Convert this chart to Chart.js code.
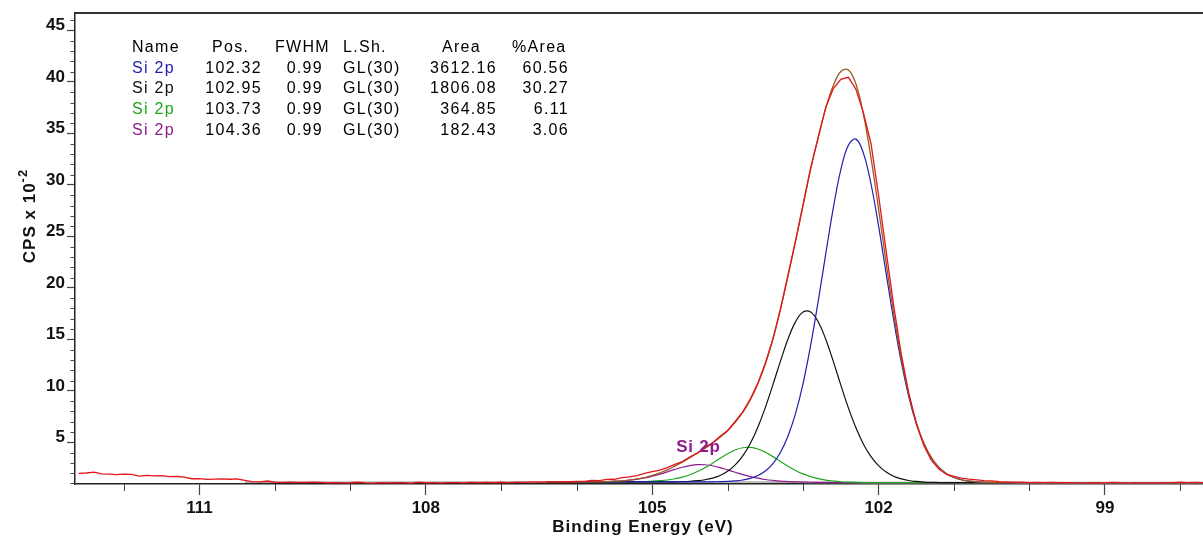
<!DOCTYPE html>
<html>
<head>
<meta charset="utf-8">
<script src="https://cdn.jsdelivr.net/npm/chart.js@4.4.1/dist/chart.umd.min.js"></script>
<style>
  html, body { margin: 0; padding: 0; background: #ffffff; }
  #wrap { position: relative; width: 1203px; height: 536px; }
</style>
</head>
<body>
<div id="wrap"><canvas id="c"></canvas></div>
<script>
// ---- Si 2p spectrum: raw counts (CPS x 10^-2) over binding energy (eV) ----
const rawEnergy = [
  112.6,112.5,112.4,112.3,112.2,112.1,112.0,111.9,111.8,111.7,
  111.6,111.5,111.4,111.3,111.2,111.1,111.0,110.9,110.8,110.7,
  110.6,110.5,110.4,110.3,110.2,110.1,110.0,109.9,109.8,109.7,
  109.6,109.5,109.4,109.3,109.2,109.1,109.0,108.9,108.8,108.7,
  108.6,108.5,108.4,108.3,108.2,108.1,108.0,107.9,107.8,107.7,
  107.6,107.5,107.4,107.3,107.2,107.1,107.0,106.9,106.8,106.7,
  106.6,106.5,106.4,106.3,106.2,106.1,106.0,105.9,105.8,105.7,
  105.6,105.5,105.4,105.3,105.2,105.1,105.0,104.9,104.8,104.7,
  104.6,104.5,104.4,104.3,104.2,104.1,104.0,103.9,103.8,103.7,
  103.6,103.5,103.4,103.3,103.2,103.1,103.0,102.9,102.8,102.7,
  102.6,102.5,102.4,102.3,102.2,102.1,102.0,101.9,101.8,101.7,
  101.6,101.5,101.4,101.3,101.2,101.1,101.0,100.9,100.8,100.7,
  100.6,100.5,100.4,100.3,100.2,100.1,100.0,99.9,99.8,99.7,
  99.6,99.5,99.4,99.3,99.2,99.1,99.0,98.9,98.8,98.7,
  98.6,98.5,98.4,98.3,98.2,98.1,98.0,97.9,97.8,97.7
];
const rawCounts = [
  1.99,2.02,2.10,1.93,1.90,1.86,1.90,1.89,1.72,1.78,
  1.73,1.76,1.67,1.68,1.62,1.46,1.48,1.40,1.43,1.45,
  1.41,1.44,1.31,1.18,1.15,1.24,1.12,1.10,1.13,1.10,
  1.11,1.14,1.10,1.06,1.09,1.06,1.07,1.12,1.06,1.04,
  1.08,1.05,1.07,1.09,1.04,1.13,1.06,1.08,1.05,1.09,
  1.08,1.06,1.10,1.08,1.11,1.07,1.12,1.09,1.13,1.10,
  1.15,1.12,1.16,1.14,1.18,1.17,1.21,1.20,1.29,1.27,
  1.40,1.41,1.56,1.64,1.77,1.98,2.15,2.30,2.55,2.86,
  3.12,3.60,3.95,4.52,4.95,5.58,6.15,7.02,7.95,9.20,
  10.75,12.70,15.05,17.95,21.25,24.55,28.05,31.65,34.55,37.55,
  39.35,40.25,40.45,39.30,37.00,34.00,29.00,23.60,18.30,13.60,
  9.80,6.80,4.70,3.25,2.40,1.88,1.68,1.53,1.42,1.36,
  1.28,1.25,1.18,1.15,1.12,1.13,1.09,1.11,1.08,1.10,
  1.07,1.09,1.08,1.06,1.08,1.07,1.05,1.10,1.08,1.05,
  1.07,1.06,1.08,1.05,1.07,1.09,1.12,1.08,1.10,1.09
];

// ---- fitted region: components (drawn on the background) and envelope ----
const fitEnergy = [
  106.4,106.3,106.2,106.1,106.0,105.9,105.8,105.7,105.6,105.5,
  105.4,105.3,105.2,105.1,105.0,104.9,104.8,104.7,104.6,104.5,
  104.4,104.3,104.2,104.1,104.0,103.9,103.8,103.7,103.6,103.5,
  103.4,103.3,103.2,103.1,103.0,102.9,102.8,102.7,102.6,102.5,
  102.4,102.3,102.2,102.1,102.0,101.9,101.8,101.7,101.6,101.5,
  101.4,101.3,101.2,101.1,101.0,100.9,100.8,100.7,100.6,100.5,
  100.4,100.3,100.2
];
const peak1Fit = [ // Si 2p 102.32
  1.15,1.15,1.15,1.15,1.15,1.15,1.15,1.15,1.15,1.15,
  1.15,1.15,1.15,1.15,1.15,1.15,1.15,1.15,1.15,1.15,
  1.15,1.15,1.16,1.18,1.20,1.25,1.34,1.50,1.78,2.22,
  2.94,4.03,5.62,7.81,10.73,14.42,18.71,23.30,27.75,31.48,
  33.86,34.45,33.07,30.09,26.02,21.43,16.90,12.85,9.45,6.82,
  4.87,3.49,2.55,1.95,1.58,1.36,1.23,1.16,1.12,1.10,
  1.09,1.08,1.08
];
const peak2Fit = [ // Si 2p 102.95
  1.15,1.15,1.15,1.15,1.15,1.15,1.15,1.15,1.15,1.15,
  1.15,1.15,1.15,1.15,1.15,1.15,1.15,1.16,1.18,1.21,
  1.27,1.36,1.52,1.78,2.18,2.80,3.68,4.89,6.47,8.39,
  10.60,12.89,15.04,16.72,17.66,17.65,16.71,15.01,12.86,10.55,
  8.34,6.41,4.82,3.61,2.73,2.11,1.71,1.45,1.29,1.20,
  1.14,1.11,1.09,1.08,1.08,1.08,1.08,1.08,1.08,1.08,
  1.08,1.08,1.08
];
const peak3Fit = [ // Si 2p 103.73
  1.15,1.15,1.15,1.15,1.15,1.15,1.15,1.15,1.15,1.15,
  1.15,1.16,1.17,1.19,1.22,1.27,1.34,1.46,1.62,1.85,
  2.16,2.53,2.97,3.44,3.88,4.25,4.47,4.51,4.35,4.03,
  3.61,3.14,2.68,2.27,1.93,1.67,1.47,1.33,1.24,1.17,
  1.14,1.12,1.09,1.08,1.08,1.08,1.08,1.08,1.08,1.08,
  1.08,1.08,1.08,1.08,1.08,1.08,1.08,1.08,1.08,1.08,
  1.08,1.08,1.08
];
const peak4Fit = [ // Si 2p 104.36
  1.15,1.15,1.15,1.15,1.15,1.16,1.16,1.17,1.19,1.22,
  1.26,1.32,1.42,1.54,1.71,1.91,2.13,2.37,2.58,2.74,
  2.83,2.82,2.72,2.54,2.32,2.09,1.86,1.67,1.52,1.39,
  1.30,1.23,1.19,1.16,1.14,1.12,1.11,1.10,1.10,1.09,
  1.09,1.09,1.08,1.08,1.08,1.08,1.08,1.08,1.08,1.08,
  1.08,1.08,1.08,1.08,1.08,1.08,1.08,1.08,1.08,1.08,
  1.08,1.08,1.08
];
const envelopeFit = [
  1.15,1.15,1.15,1.15,1.15,1.16,1.16,1.17,1.19,1.22,
  1.26,1.33,1.44,1.58,1.78,2.03,2.32,2.69,3.08,3.50,
  3.96,4.41,4.92,5.49,6.13,6.94,7.90,9.12,10.67,12.61,
  15.03,17.90,21.14,24.60,28.10,31.53,34.67,37.44,39.65,41.02,
  41.16,39.80,36.82,32.62,27.67,22.46,17.53,13.22,9.66,6.94,
  4.93,3.52,2.56,1.95,1.58,1.36,1.23,1.16,1.12,1.10,
  1.09,1.08,1.08
];
const bgEnergy = [110.4, 106.4, 103.7, 103.5, 103.3, 103.1, 102.9, 102.7, 102.5, 102.2, 97.7];
const bgLevel  = [1.12, 1.15, 1.15, 1.14, 1.13, 1.12, 1.11, 1.10, 1.09, 1.08, 1.08];

// ---- peak table ----
const tableHeader = ['Name', 'Pos.', 'FWHM', 'L.Sh.', 'Area', '%Area'];
const peakNames   = ['Si 2p', 'Si 2p', 'Si 2p', 'Si 2p'];
const peakPos     = [102.32, 102.95, 103.73, 104.36];
const peakFwhm    = [0.99, 0.99, 0.99, 0.99];
const peakShape   = ['GL(30)', 'GL(30)', 'GL(30)', 'GL(30)'];
const peakArea    = [3612.16, 1806.08, 364.85, 182.43];
const peakPct     = [60.56, 30.27, 6.11, 3.06];
const peakColors  = ['#1e1eb0', '#111111', '#1fa51f', '#8e1c8e'];

// ---- axes ----
const xMajorTicks = [111, 108, 105, 102, 99];
const xMinorTicks = [112, 110, 109, 107, 106, 104, 103, 101, 100, 98];
const yMajorTicks = [5, 10, 15, 20, 25, 30, 35, 40, 45];
const yMinorTicks = [1,2,3,4,6,7,8,9,11,12,13,14,16,17,18,19,21,22,23,24,26,27,28,29,
                     31,32,33,34,36,37,38,39,41,42,43,44,46];

const FONT = '"Liberation Sans", Arial, Helvetica, sans-serif';
const pts = (xs, ys) => xs.map((x, i) => ({ x: x, y: ys[i] }));

const decor = {
  id: 'decor',
  afterDraw(chart) {
    const { ctx, chartArea: a, scales } = chart;
    const sx = scales.x, sy = scales.y;
    ctx.save();

    // frame top edge
    ctx.strokeStyle = '#333';
    ctx.lineWidth = 2;
    ctx.beginPath();
    ctx.moveTo(a.left, a.top);
    ctx.lineTo(a.right, a.top);
    ctx.stroke();

    // minor tick marks
    ctx.strokeStyle = '#444';
    ctx.lineWidth = 1;
    ctx.beginPath();
    yMinorTicks.forEach(v => {
      const py = Math.round(sy.getPixelForValue(v)) + 0.5;
      ctx.moveTo(a.left - 4.5, py);
      ctx.lineTo(a.left, py);
    });
    xMinorTicks.forEach(v => {
      const px = Math.round(sx.getPixelForValue(v)) + 0.5;
      ctx.moveTo(px, a.bottom);
      ctx.lineTo(px, a.bottom + 7);
    });
    ctx.stroke();

    // peak table
    ctx.font = '16px ' + FONT;
    ctx.letterSpacing = '1.3px';
    ctx.textBaseline = 'middle';
    const rowY = [48, 68.5, 89, 110, 130.5];
    const headX = [132, 212, 275, 343, 442, 512];
    ctx.fillStyle = '#000';
    ctx.textAlign = 'left';
    tableHeader.forEach((h, i) => ctx.fillText(h, headX[i], rowY[0]));
    peakNames.forEach((n, r) => {
      const y = rowY[r + 1];
      ctx.textAlign = 'left';
      ctx.fillStyle = peakColors[r];
      ctx.fillText(n, 132, y);
      ctx.fillStyle = '#000';
      ctx.fillText(peakShape[r], 343, y);
      ctx.textAlign = 'right';
      ctx.fillText(peakPos[r].toFixed(2), 262, y);
      ctx.fillText(peakFwhm[r].toFixed(2), 323, y);
      ctx.fillText(peakArea[r].toFixed(2), 497, y);
      ctx.fillText(peakPct[r].toFixed(2), 569, y);
    });

    // component label above the 104.36 eV peak
    const top4 = Math.max.apply(null, peak4Fit);
    ctx.font = 'bold 17px ' + FONT;
    ctx.letterSpacing = '0.8px';
    ctx.textAlign = 'center';
    ctx.fillStyle = peakColors[3];
    ctx.fillText(peakNames[3], sx.getPixelForValue(peakPos[3]) - 2, sy.getPixelForValue(top4) - 17);

    // x axis title
    ctx.font = 'bold 17px ' + FONT;
    ctx.letterSpacing = '1px';
    ctx.fillStyle = '#111';
    ctx.textAlign = 'center';
    ctx.textBaseline = 'alphabetic';
    ctx.fillText('Binding Energy (eV)', 643, 532);

    // y axis title with superscript exponent
    ctx.translate(35, 216);
    ctx.rotate(-Math.PI / 2);
    ctx.letterSpacing = '1px';
    ctx.font = 'bold 17px ' + FONT;
    const main = 'CPS x 10';
    const wMain = ctx.measureText(main).width;
    ctx.font = 'bold 13px ' + FONT;
    const sup = '-2';
    const wSup = ctx.measureText(sup).width;
    const x0 = -(wMain + wSup) / 2;
    ctx.textAlign = 'left';
    ctx.font = 'bold 17px ' + FONT;
    ctx.fillText(main, x0, 0);
    ctx.font = 'bold 13px ' + FONT;
    ctx.fillText(sup, x0 + wMain, -8);

    ctx.restore();
  }
};

const line = (label, xs, ys, color, width, tension, order) => ({
  label: label,
  data: pts(xs, ys),
  borderColor: color,
  borderWidth: width,
  pointRadius: 0,
  fill: false,
  tension: tension,
  order: order
});

new Chart(document.getElementById('c'), {
  type: 'line',
  data: {
    datasets: [
      line('Counts', rawEnergy, rawCounts, '#e3161b', 1.3, 0, 0),
      line('Envelope', fitEnergy, envelopeFit, '#9a5b22', 1.3, 0.4, 1),
      line('Si 2p 102.32', fitEnergy, peak1Fit, peakColors[0], 1.2, 0.4, 2),
      line('Si 2p 102.95', fitEnergy, peak2Fit, peakColors[1], 1.2, 0.4, 3),
      line('Si 2p 103.73', fitEnergy, peak3Fit, peakColors[2], 1.2, 0.4, 4),
      line('Si 2p 104.36', fitEnergy, peak4Fit, peakColors[3], 1.2, 0.4, 5),
      line('Background', bgEnergy, bgLevel, '#a9a9a9', 1.6, 0, 6)
    ]
  },
  options: {
    responsive: true,
    maintainAspectRatio: false,
    animation: false,
    events: [],
    layout: { autoPadding: false, padding: { top: 13, right: 0, left: 0, bottom: 0 } },
    plugins: { legend: { display: false }, tooltip: { enabled: false } },
    scales: {
      x: {
        type: 'linear',
        reverse: true,
        min: 97.7,
        max: 112.65,
        afterBuildTicks: s => { s.ticks = xMajorTicks.map(v => ({ value: v })); },
        afterFit: s => { s.height = 52; },
        ticks: {
          callback: v => String(v),
          font: { family: FONT, size: 17, weight: 'bold' },
          color: '#111',
          padding: 3,
          maxRotation: 0,
          autoSkip: false
        },
        grid: { display: true, drawOnChartArea: false, drawTicks: true, tickLength: 11, color: '#444', tickWidth: 1.2 },
        border: { display: true, color: '#222', width: 1.5 }
      },
      y: {
        type: 'linear',
        min: 0.95,
        max: 46.7,
        afterBuildTicks: s => { s.ticks = yMajorTicks.map(v => ({ value: v })); },
        afterFit: s => { s.width = 75; },
        ticks: {
          callback: v => String(v),
          font: { family: FONT, size: 17, weight: 'bold' },
          color: '#111',
          padding: 2,
          labelOffset: -5,
          autoSkip: false
        },
        grid: { display: true, drawOnChartArea: false, drawTicks: true, tickLength: 8, color: '#444', tickWidth: 1.2 },
        border: { display: true, color: '#222', width: 1.5 }
      }
    }
  },
  plugins: [decor]
});
</script>
</body>
</html>
